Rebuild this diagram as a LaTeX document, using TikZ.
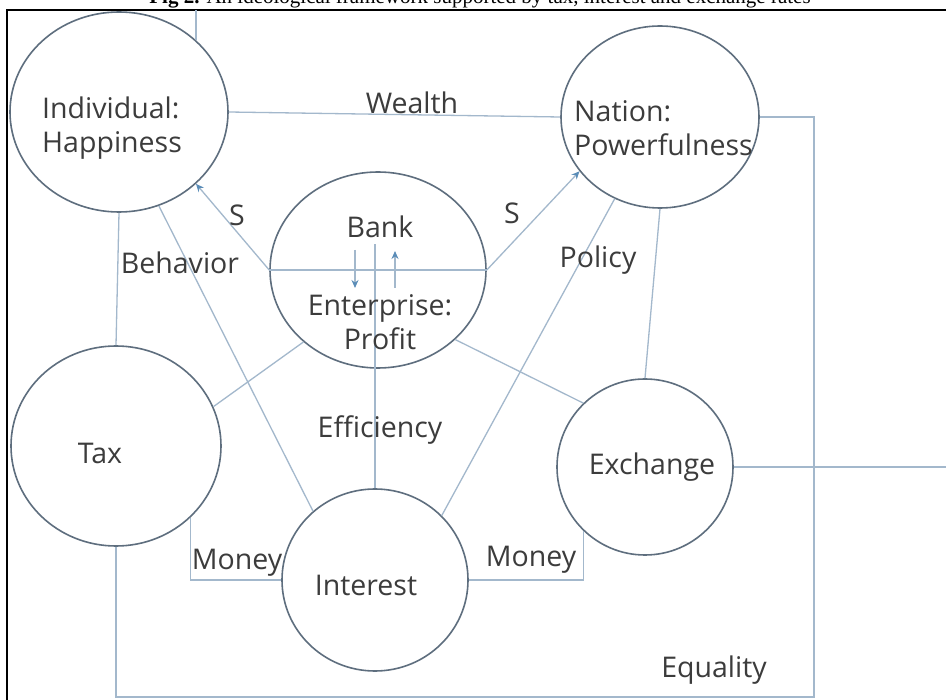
\documentclass[tikz,border=0pt]{standalone}
\usepackage{fontspec}
\setmainfont{Open Sans}
\newfontfamily\capfont{Liberation Serif}
\usetikzlibrary{shapes.geometric,arrows.meta}
\definecolor{ringcol}{HTML}{5E6E7E}
\definecolor{linkcol}{HTML}{A3B8CC}
\definecolor{tipcol}{HTML}{5B8DB8}
\definecolor{txtcol}{HTML}{3C3C3C}
\tikzset{
  ring/.style={ellipse, draw=ringcol, line width=1.6pt, inner sep=0pt, fill=white},
  link/.style={draw=linkcol, line width=1.3pt},
  flow/.style={link, -{Stealth[length=8pt,width=7pt,color=tipcol]}},
  lbl/.style={text=txtcol, inner sep=0pt, font=\fontsize{28.5}{34}\selectfont},
}
\begin{document}
\begin{tikzpicture}[x=1pt,y=-1pt]
\useasboundingbox (0,0) rectangle (946,700);
\clip (0,0) rectangle (946,700);
\fill[white] (0,0) rectangle (946,700);

% caption and outer frame
\node[anchor=base, inner sep=0pt, font=\capfont\fontsize{21}{25}\selectfont] (cap) at (480,3.5)
  {\textbf{Fig 2.} An ideological framework supported by tax, interest and exchange rates};
\draw[black, line width=2pt] (7,10) rectangle (980,740);

% the six circles
\node[ring, minimum width=218pt, minimum height=200pt] (ind) at (119,112) {};
\node[ring, minimum width=198pt, minimum height=182pt] (nat) at (660,117) {};
\node[ring, minimum width=216pt, minimum height=196pt] (bank) at (378,270) {};
\node[ring, minimum width=210pt, minimum height=200pt] (tax) at (116,446) {};
\node[ring, minimum width=186pt, minimum height=182pt] (int) at (375,580) {};
\node[ring, minimum width=176pt, minimum height=176pt] (exc) at (645,467) {};

% free ends and inner points
\coordinate (ftop) at (195,10);
\coordinate (fright) at (946,467);
\coordinate (corner) at (814,697);
\coordinate (bankin) at (378,244);
\coordinate (dnA) at (355,250);
\coordinate (dnB) at (355,288);
\coordinate (upA) at (395,288);
\coordinate (upB) at (395,251);

% connectors
\draw[link] (ind.43.5) -- (ind.43.5 |- ftop);
\draw[link] (ind.east) -- (nat.west);
\draw[link] (tax.south) |- (corner) |- (nat.east);
\draw[link] (ind.south) -- (tax.north);
\draw[link] (ind.-67) -- (int.132);
\draw[link] (nat.south) -- (exc.north);
\draw[link] (int.44) -- (nat.-119.5);
\draw[link] (bank.west) -- (bank.east);
\draw[link] (int.north) -- (int.north |- bankin);
\draw[link] (bank.-136) -- (tax.22.6);
\draw[link] (bank.-42.7) -- (exc.134.6);
\draw[link] (exc.east) -- (fright);
\draw[link] (tax.-44.6) |- (int.west);
\draw[link] (int.east) -| (exc.-134.5);
\draw[flow] (bank.west) -- (ind.-43);
\draw[flow] (bank.east) -- (nat.214);
\draw[flow] (dnA) -- (dnB);
\draw[flow] (upA) -- (upB);

% circle texts
\node[lbl, anchor=west, align=left] (tind) at (42,128) {Individual:\\Happiness};
\node[lbl, anchor=west, align=left] (tnat) at (574,128) {Nation:\\Powerfulness};
\node[lbl] (tbank) at (380,227) {Bank};
\node[lbl, align=center] (tent) at (380,322) {Enterprise:\\Profit};
\node[lbl] (ttax) at (100,453) {Tax};
\node[lbl] (tint) at (366,585) {Interest};
\node[lbl] (texc) at (652,467) {Exchange};

% connector labels
\node[lbl] (lw) at (412,103) {Wealth};
\node[lbl] (ls1) at (237,215) {S};
\node[lbl] (ls2) at (512,213) {S};
\node[lbl] (lbeh) at (180,263) {Behavior};
\node[lbl] (lpol) at (598,260) {Policy};
\node[lbl] (leff) at (380,430) {Efficiency};
\node[lbl] (lm1) at (237,563) {Money};
\node[lbl] (lm2) at (531,560) {Money};
\node[lbl] (leq) at (714,670) {Equality};
\end{tikzpicture}
\end{document}
